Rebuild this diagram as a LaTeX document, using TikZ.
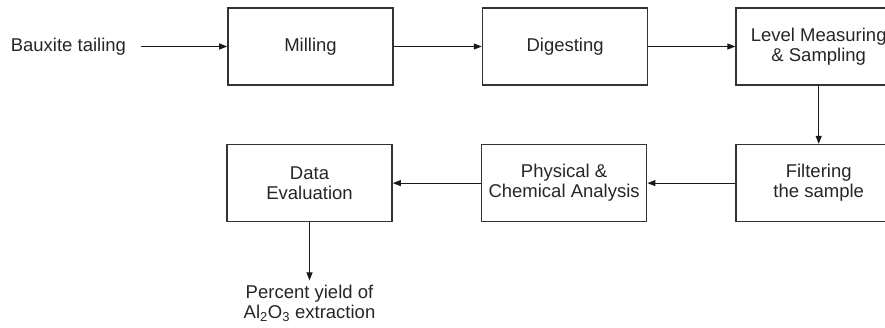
\documentclass[tikz,border=0pt]{standalone}
\usepackage{fontspec}
\setmainfont{Liberation Sans}
\usetikzlibrary{arrows.meta,positioning}
\tikzset{
	stepnode/.style = {rectangle, draw=black!80, line width=1.6pt, align=center,
		minimum width=165pt, minimum height=77pt, inner sep=2pt,
		font=\fontsize{18.5}{20}\selectfont, text=black!85},% process box
	plain/.style = {align=center, inner sep=0pt,
		font=\fontsize{18.5}{20}\selectfont, text=black!85},% free text
	arr/.style = {->, draw=black!90, line width=1pt}
}

\begin{document}
\begin{tikzpicture}[>={Triangle[length=8pt,width=6pt]}]
\path[use as bounding box, clip] (0pt,0pt) rectangle (885pt,-327pt);
\node [stepnode] (milling) at (310.5pt,-46.5pt) {Milling};
\node [stepnode, right=88pt of milling] (digesting) {Digesting};
\node [stepnode, right=87pt of digesting] (level) {Level Measuring\\ \& Sampling};
\node [stepnode, below=58pt of level] (filtering) {Filtering\\the sample};
\node [stepnode, left=88pt of filtering] (analysis) {Physical \&\\Chemical Analysis};
\node [stepnode, left=88pt of analysis] (evaluation) {Data\\Evaluation};
\node [plain, left=101pt of milling] (bauxite) {Bauxite tailing};
\node [plain, below=62pt of evaluation] (yield) {Percent yield of\\Al\textsubscript{2}O\textsubscript{3} extraction};

\draw [arr, shorten <=15pt] (bauxite) -- (milling);
\draw [arr] (milling) -- (digesting);
\draw [arr] (digesting) -- (level);
\draw [arr] (level) -- (filtering);
\draw [arr] (filtering) -- (analysis);
\draw [arr] (analysis) -- (evaluation);
\draw [arr, shorten >=4pt] (evaluation) -- (yield);
\end{tikzpicture}
\end{document}
